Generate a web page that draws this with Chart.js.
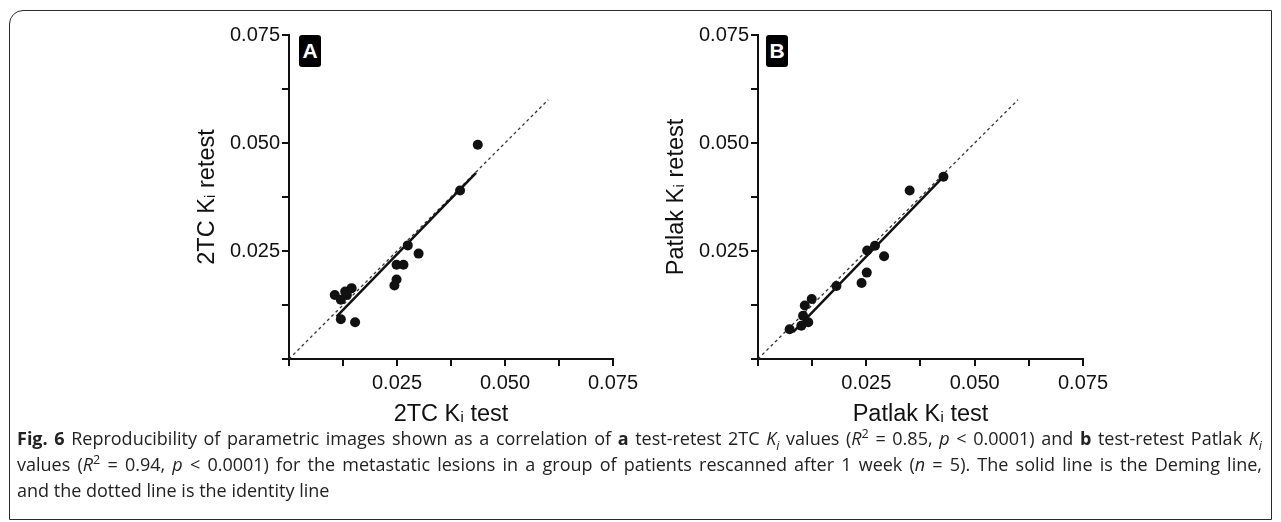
<!DOCTYPE html>
<html>
<head>
<meta charset="utf-8">
<script src="https://cdn.jsdelivr.net/npm/chart.js@4.4.1/dist/chart.umd.min.js"></script>
<style>
  body { margin: 0; background: #fff; width: 1281px; height: 522px; position: relative; overflow: hidden; }
  #frame { position: absolute; left: 9px; top: 10px; width: 1263px; height: 510px; border: 1.5px solid #2a2a2a; border-radius: 14px 0 0 0; box-sizing: border-box; }
  .wrap { position: absolute; top: 20px; height: 409px; }
  .tag { position: absolute; top: 35px; width: 22px; height: 32px; background: #000; border-radius: 3px; color: #fff;
         font: bold 21px "Liberation Sans", Arial, sans-serif; text-align: center; line-height: 32px; }
  #caption { position: absolute; left: 17px; top: 425px; width: 1245px; font: 18px "Open Sans", sans-serif; color: #222; line-height: 26px; }
  #caption .j { text-align: justify; text-align-last: justify; white-space: nowrap; }
  sub, sup { font-size: 70%; line-height: 0; }
</style>
</head>
<body>
<div id="frame"></div>
<div class="wrap" style="left:190px;width:453px"><canvas id="chartA"></canvas></div>
<div class="wrap" style="left:659px;width:454px"><canvas id="chartB"></canvas></div>
<div class="tag" style="left:299px">A</div>
<div class="tag" style="left:766px">B</div>
<div id="caption">
  <div class="j"><b>Fig. 6</b> Reproducibility of parametric images shown as a correlation of <b>a</b> test-retest 2TC <i>K<sub>i</sub></i> values (<i>R</i><sup>2</sup> = 0.85, <i>p</i> &lt; 0.0001) and <b>b</b> test-retest Patlak <i>K<sub>i</sub></i></div>
  <div class="j">values (<i>R</i><sup>2</sup> = 0.94, <i>p</i> &lt; 0.0001) for the metastatic lesions in a group of patients rescanned after 1 week (<i>n</i> = 5). The solid line is the Deming line,</div>
  <div>and the dotted line is the identity line</div>
</div>
<script>
// panel A: 2TC Ki
const testA   = [0.0106, 0.0120, 0.0130, 0.0134, 0.0145, 0.0120, 0.0153, 0.0244, 0.0249, 0.0249, 0.0265, 0.0275, 0.0300, 0.0396, 0.0437];
const retestA = [0.0148, 0.0137, 0.0156, 0.0148, 0.0164, 0.0092, 0.0085, 0.0170, 0.0184, 0.0218, 0.0218, 0.0263, 0.0244, 0.0390, 0.0496];
const demingA = [[0.0110, 0.0098], [0.0433, 0.0431]];

// panel B: Patlak Ki
const testB   = [0.0073, 0.0100, 0.0104, 0.0108, 0.0116, 0.0124, 0.0181, 0.0239, 0.0251, 0.0252, 0.0270, 0.0291, 0.0350, 0.0428];
const retestB = [0.0069, 0.0077, 0.0100, 0.0124, 0.0085, 0.0139, 0.0169, 0.0176, 0.0200, 0.0251, 0.0262, 0.0238, 0.0390, 0.0422];
const demingB = [[0.0081, 0.0062], [0.0428, 0.0422]];

const identity = [[0, 0], [0.06, 0.06]];
const axisMin = 0, axisMax = 0.075, tickStep = 0.0125;

const toXY = pairs => pairs.map(([x, y]) => ({ x, y }));
const tickFont = { family: '"Liberation Sans", Arial, sans-serif', size: 20 };
const titleFont = { family: '"Liberation Sans", Arial, "DejaVu Sans", sans-serif', size: 23.5 };

function tickLabel(v) {
    const m = Math.round(v * 10000);
    return (m > 0 && m % 250 === 0) ? v.toFixed(3) : '';
}

function axis(title, isY) {
    return {
        type: 'linear', min: axisMin, max: axisMax,
        border: { display: true, color: '#111', width: 2 },
        grid: { drawOnChartArea: false, drawTicks: true, tickLength: 7, color: '#111', lineWidth: 2 },
        ticks: { stepSize: tickStep, autoSkip: false, maxRotation: 0, color: '#111', font: tickFont, padding: isY ? 2 : 5, callback: tickLabel },
        title: { display: true, text: title, color: '#111', font: titleFont, padding: isY ? { top: 3, bottom: 0 } : { top: 0, bottom: 0 } },
        afterFit: s => { if (isY) s.width = 99; else s.height = 70; }
    };
}

function makeChart(id, test, retest, deming, xTitle, yTitle) {
    const pts = test.map((x, i) => ({ x, y: retest[i] }));
    return new Chart(document.getElementById(id), {
        type: 'scatter',
        data: {
            datasets: [
                { data: pts, pointRadius: 5, pointHoverRadius: 5, backgroundColor: '#111', borderWidth: 0 },
                { data: toXY(deming), showLine: true, pointRadius: 0, borderColor: '#111', borderWidth: 2.5 },
                { data: toXY(identity), showLine: true, pointRadius: 0, borderColor: '#333', borderWidth: 1.3, borderDash: [3, 3] }
            ]
        },
        options: {
            responsive: true, maintainAspectRatio: false, animation: false,
            layout: { padding: { top: 15, right: 30, left: 0, bottom: 0 } },
            plugins: { legend: { display: false }, tooltip: { enabled: false } },
            scales: { x: axis(xTitle, false), y: axis(yTitle, true) }
        }
    });
}

makeChart('chartA', testA, retestA, demingA, '2TC Kᵢ test', '2TC Kᵢ retest');
makeChart('chartB', testB, retestB, demingB, 'Patlak Kᵢ test', 'Patlak Kᵢ retest');
</script>
</body>
</html>
